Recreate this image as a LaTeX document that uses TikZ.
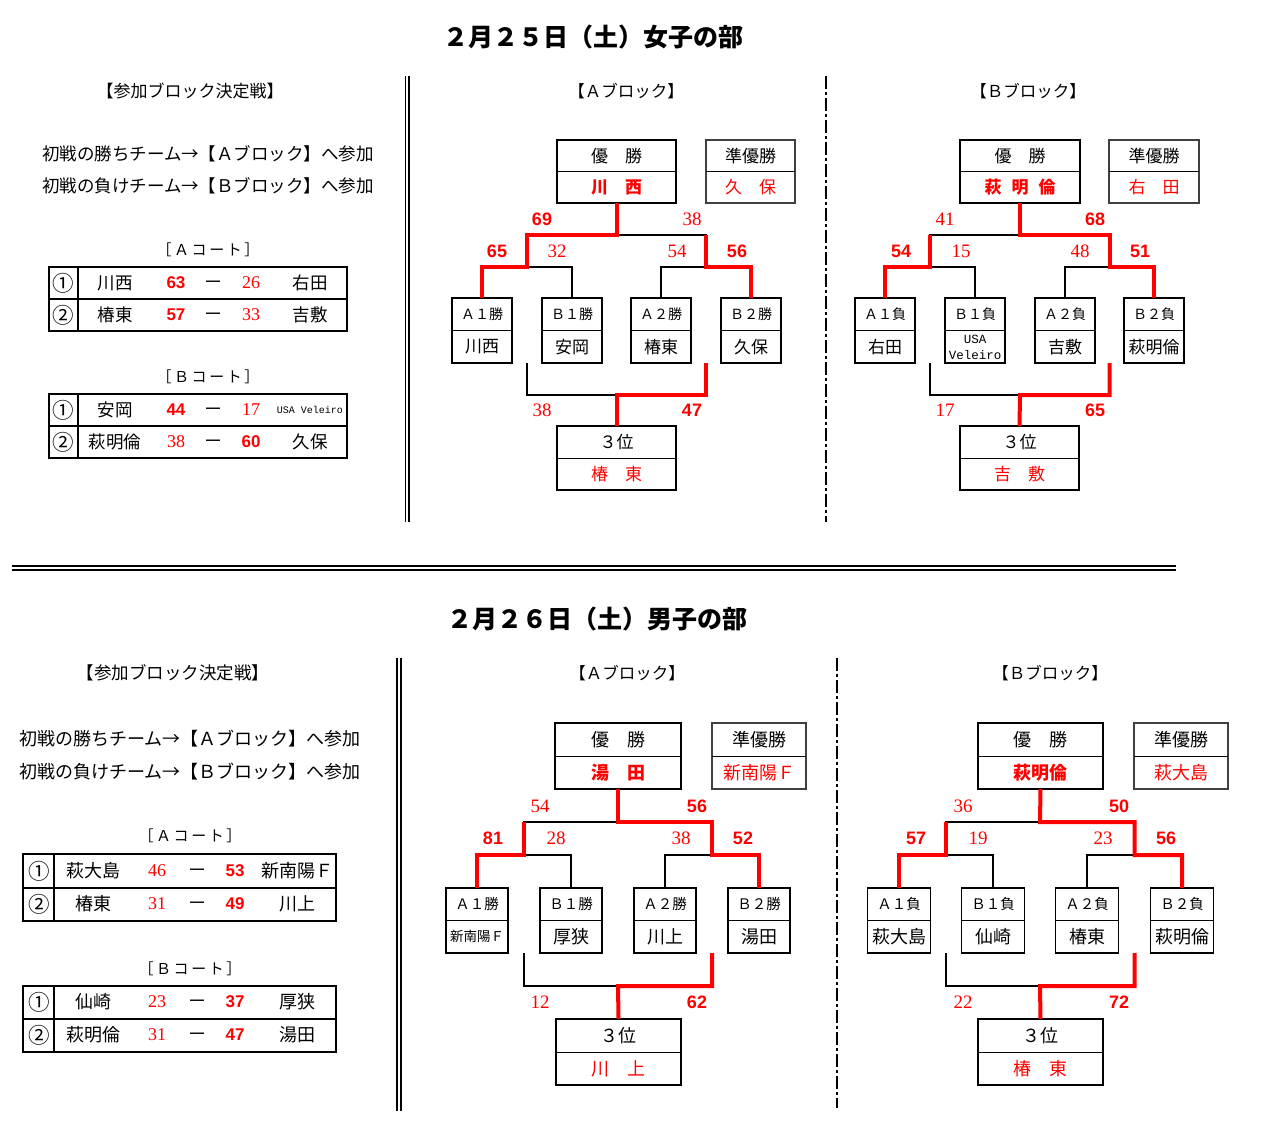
\documentclass[tikz,border=0pt]{standalone}
\usepackage{fontspec}
\setmainfont{Noto Sans CJK JP}
\newfontfamily\lsans{Liberation Sans}
\newfontfamily\lserif{Liberation Serif}
\newfontfamily\lmono{Liberation Mono}
\newcommand{\myfs}[1]{\fontsize{#1}{#1}\selectfont}
\newcommand{\gp}{\hspace{2.6pt}}
% two-row box: name, x, y, w, h, box style, top text, bottom style, bottom text
\newcommand{\tbox}[9]{%
  \node[#6, minimum width=#4pt, minimum height=#5pt] (#1) at (#2,#3) {};
  \draw[dv] (#1.west) -- (#1.east);
  \node[tp] (#1u) at (#2,#3-#5/4) {#7};
  \node[#8] (#1l) at (#2,#3+#5/4) {#9};
}
% table row: prefix, y, num, team1, style1, score1, style2, score2, team2
\newcommand{\trow}[9]{%
  \node[cn] (#1n) at (\xa,#2) {#3};
  \node[tt] (#1a) at (\xb,#2) {#4};
  \node[#5] (#1s) at (\xc,#2) {#6};
  \node[dsht] (#1d) at (\xd,#2) {—};
  \node[#7] (#1t) at (\xe,#2) {#8};
  \node[tt] (#1b) at (\xf,#2) {#9};
}
\begin{document}
\begin{tikzpicture}[x=1pt,y=-1pt,
  every node/.style={inner sep=0pt, outer sep=0pt},
  bk/.style={line width=1.6pt, black},
  rd/.style={line width=4pt, red},
  dv/.style={line width=0.9pt},
  bx/.style={draw, line width=1.8pt},
  wbx/.style={draw, line width=1.8pt},
  rbx/.style={draw=black!75, line width=1.3pt},
  tbx/.style={draw, line width=1.1pt},
  tp/.style={font=\myfs{17}},
  nm/.style={font=\myfs{17}},
  wn/.style={font=\bfseries\myfs{17}, text=red},
  rn/.style={font=\myfs{17}, text=red},
  win/.style={font=\lsans\bfseries\myfs{18}, text=red},
  lose/.style={font=\lserif\myfs{19}, text=red},
  tw/.style={font=\lsans\bfseries\myfs{17}, text=red},
  tl/.style={font=\lserif\myfs{18}, text=red},
  tt/.style={font=\myfs{17.5}},
  cn/.style={font=\myfs{21.5}},
  dsht/.style={font=\lsans\bfseries\myfs{14}},
  hd/.style={font=\myfs{17}},
  hd2/.style={font=\myfs{16.5}},
  ex/.style={font=\myfs{17.5}},
  ct/.style={font=\myfs{15}},
  tbl/.style={draw, line width=2pt},
  dsh/.style={line width=2pt, dash pattern=on 13pt off 3pt on 3pt off 3pt},
  dbl/.style={line width=1.6pt}
]
\fill[white] (0,0) rectangle (1274,1136);
\useasboundingbox (0,0) rectangle (1274,1136);

% ===================== TOP: women =====================
\node[font=\bfseries\myfs{25}] (t1) at (593,37) {２月２５日（土）女子の部};
\node[hd] (t1l) at (190,91) {【参加ブロック決定戦】};
\node[hd2] (t1a) at (626,91) {【Ａブロック】};
\node[hd2] (t1b) at (1028,91) {【Ｂブロック】};
\node[ex] (t1e1) at (208,154) {初戦の勝ちチーム→【Ａブロック】へ参加};
\node[ex] (t1e2) at (208,186) {初戦の負けチーム→【Ｂブロック】へ参加};

\draw[dbl] (405.5,76) -- (405.5,522);
\draw[dbl] (409,76) -- (409,522);
\draw[dsh] (826,76) -- (826,522);

% A court
\node[ct] (t1ca) at (208,250) {［\gp Ａ\gp コ\gp ー\gp ト\gp ］};
\node[tbl, minimum width=298pt, minimum height=64pt] (TCA) at (198,299) {};
\draw[line width=2pt] (TCA.west) -- (TCA.east);
\coordinate (TCAc) at (78,299);
\draw[line width=1.5pt] (TCAc |- TCA.north) -- (TCAc |- TCA.south);
\def\xa{63}\def\xb{115}\def\xc{176}\def\xd{213}\def\xe{251}\def\xf{310}
\trow{TCA1}{283}{①}{川西}{tw}{63}{tl}{26}{右田}
\trow{TCA2}{315}{②}{椿東}{tw}{57}{tl}{33}{吉敷}
% B court
\node[ct] (t1cb) at (208,377) {［\gp Ｂ\gp コ\gp ー\gp ト\gp ］};
\node[tbl, minimum width=298pt, minimum height=64pt] (TCB) at (198,426) {};
\draw[line width=2pt] (TCB.west) -- (TCB.east);
\coordinate (TCBc) at (78,426);
\draw[line width=1.5pt] (TCBc |- TCB.north) -- (TCBc |- TCB.south);
\trow{TCB1}{410}{①}{安岡}{tw}{44}{tl}{17}{\lmono\myfs{10}USA Veleiro}
\trow{TCB2}{442}{②}{萩明倫}{tl}{38}{tw}{60}{久保}

% ---- A block (top)
\tbox{TAW}{616.5}{171.5}{119}{63}{wbx}{優　勝}{wn}{川　西}
\tbox{TAR}{750.5}{171.5}{89}{63}{rbx}{準優勝}{rn}{久　保}
\tbox{TAb1}{482}{330.5}{60}{65}{bx}{\myfs{14}Ａ１勝}{nm}{川西}
\tbox{TAb2}{572}{330.5}{60}{65}{bx}{\myfs{14}Ｂ１勝}{nm}{安岡}
\tbox{TAb3}{661}{330.5}{60}{65}{bx}{\myfs{14}Ａ２勝}{nm}{椿東}
\tbox{TAb4}{751}{330.5}{60}{65}{bx}{\myfs{14}Ｂ２勝}{nm}{久保}
\tbox{TAT}{616.5}{458}{119}{64}{tbx}{３位}{rn}{椿　東}
\coordinate (TAs1) at (527,267);
\coordinate (TAs2) at (706,267);
\coordinate (TAf) at (616.5,235);
\coordinate (TAl1) at (527,363);
\coordinate (TAl2) at (706,363);
\coordinate (TAt) at (616.5,395);
\draw[bk] (TAb1.north) |- (TAs1) -| (TAb2.north);
\draw[bk] (TAb3.north) |- (TAs2) -| (TAb4.north);
\draw[bk] (TAs1) |- (TAf) -| (TAs2);
\draw[bk] (TAl1) |- (TAt) -| (TAl2);
\draw[rd] (TAb1.north) |- (TAs1) |- (TAf) -- (TAW.south);
\draw[rd] (TAb4.north) |- (TAs2) -- (TAs2 |- TAf);
\draw[rd] (TAl2) |- (TAt) -- (TAT.north);
\node[win] (TAk1) at (542,219) {69};
\node[lose] (TAk2) at (692,219) {38};
\node[win] (TAk3) at (497,251) {65};
\node[lose] (TAk4) at (557,251) {32};
\node[lose] (TAk5) at (677,251) {54};
\node[win] (TAk6) at (737,251) {56};
\node[lose] (TAk7) at (542,410) {38};
\node[win] (TAk8) at (692,410) {47};

% ---- B block (top)
\tbox{TBW}{1020}{171.5}{120}{63}{wbx}{優　勝}{wn}{萩\hspace{10pt}明\hspace{10pt}倫}
\tbox{TBR}{1154}{171.5}{90}{63}{rbx}{準優勝}{rn}{右　田}
\tbox{TBb1}{885}{330.5}{60}{65}{bx}{\myfs{14}Ａ１負}{nm}{右田}
\tbox{TBb2}{975}{330.5}{60}{65}{bx}{\myfs{14}Ｂ１負}{nm}{}
\tbox{TBb3}{1065}{330.5}{60}{65}{bx}{\myfs{14}Ａ２負}{nm}{吉敷}
\tbox{TBb4}{1154}{330.5}{60}{65}{bx}{\myfs{14}Ｂ２負}{nm}{萩明倫}
\node[font=\lmono\myfs{12.5}] (TBv1) at (975,339) {USA};
\node[font=\lmono\myfs{12.5}] (TBv2) at (975,355) {Veleiro};
\tbox{TBT}{1019.5}{458}{119}{64}{tbx}{３位}{rn}{吉　敷}
\coordinate (TBs1) at (930,267);
\coordinate (TBs2) at (1109.5,267);
\coordinate (TBf) at (1020,235);
\coordinate (TBl1) at (930,363);
\coordinate (TBl2) at (1109.5,363);
\coordinate (TBt) at (1020,395);
\draw[bk] (TBb1.north) |- (TBs1) -| (TBb2.north);
\draw[bk] (TBb3.north) |- (TBs2) -| (TBb4.north);
\draw[bk] (TBs1) |- (TBf) -| (TBs2);
\draw[bk] (TBl1) |- (TBt) -| (TBl2);
\draw[rd] (TBb4.north) |- (TBs2) |- (TBf) -- (TBW.south);
\draw[rd] (TBb1.north) |- (TBs1) -- (TBs1 |- TBf);
\draw[rd] (TBl2) |- (TBt) -- (TBT.north);
\node[lose] (TBk1) at (945,219) {41};
\node[win] (TBk2) at (1095,219) {68};
\node[win] (TBk3) at (901,251) {54};
\node[lose] (TBk4) at (961,251) {15};
\node[lose] (TBk5) at (1080,251) {48};
\node[win] (TBk6) at (1140,251) {51};
\node[lose] (TBk7) at (945,410) {17};
\node[win] (TBk8) at (1095,410) {65};

% ===================== separator =====================
\draw[line width=1.8pt] (12,566) -- (1176,566);
\draw[line width=1.8pt] (12,570) -- (1176,570);

% ===================== BOTTOM: men =====================
\begin{scope}[tp/.style={font=\myfs{18}}, nm/.style={font=\myfs{18}},
  wn/.style={font=\bfseries\myfs{18}, text=red}, rn/.style={font=\myfs{18}, text=red},
  tt/.style={font=\myfs{18}}]
\node[font=\bfseries\myfs{25}] (t2) at (597,619) {２月２６日（土）男子の部};
\node[font=\myfs{17.5}] (t2l) at (173,673) {【参加ブロック決定戦】};
\node[hd2] (t2a) at (627,673) {【Ａブロック】};
\node[hd2] (t2b) at (1050,673) {【Ｂブロック】};
\node[font=\myfs{18}] (t2e1) at (190,739) {初戦の勝ちチーム→【Ａブロック】へ参加};
\node[font=\myfs{18}] (t2e2) at (190,772) {初戦の負けチーム→【Ｂブロック】へ参加};

\draw[dbl] (397,658) -- (397,1111);
\draw[dbl] (401,658) -- (401,1111);
\draw[dsh] (837,658) -- (837,1108);

\node[ct] (t2ca) at (190,836) {［\gp Ａ\gp コ\gp ー\gp ト\gp ］};
\node[tbl, minimum width=313pt, minimum height=67pt] (BCA) at (179.5,887.5) {};
\draw[line width=2pt] (BCA.west) -- (BCA.east);
\coordinate (BCAc) at (54,887.5);
\draw[line width=1.5pt] (BCAc |- BCA.north) -- (BCAc |- BCA.south);
\def\xa{39}\def\xb{93}\def\xc{157}\def\xd{197}\def\xe{235}\def\xf{297}
\trow{BCA1}{871}{①}{萩大島}{tl}{46}{tw}{53}{新南陽Ｆ}
\trow{BCA2}{904}{②}{椿東}{tl}{31}{tw}{49}{川上}
\node[ct] (t2cb) at (190,969) {［\gp Ｂ\gp コ\gp ー\gp ト\gp ］};
\node[tbl, minimum width=313pt, minimum height=66pt] (BCB) at (179.5,1019) {};
\draw[line width=2pt] (BCB.west) -- (BCB.east);
\coordinate (BCBc) at (54,1019);
\draw[line width=1.5pt] (BCBc |- BCB.north) -- (BCBc |- BCB.south);
\trow{BCB1}{1002}{①}{仙崎}{tl}{23}{tw}{37}{厚狭}
\trow{BCB2}{1035}{②}{萩明倫}{tl}{31}{tw}{47}{湯田}

% ---- A block (bottom)
\tbox{BAW}{618}{756}{126}{66}{wbx}{優　勝}{wn}{湯　田}
\tbox{BAR}{759}{756}{94}{66}{rbx}{準優勝}{rn}{新南陽Ｆ}
\tbox{BAb1}{477}{920.5}{62}{65}{bx}{\myfs{14.5}Ａ１勝}{nm}{\myfs{13.5}新南陽Ｆ}
\tbox{BAb2}{571}{920.5}{62}{65}{bx}{\myfs{14.5}Ｂ１勝}{nm}{厚狭}
\tbox{BAb3}{665}{920.5}{62}{65}{bx}{\myfs{14.5}Ａ２勝}{nm}{川上}
\tbox{BAb4}{759}{920.5}{62}{65}{bx}{\myfs{14.5}Ｂ２勝}{nm}{湯田}
\tbox{BAT}{618.5}{1052}{125}{66}{tbx}{３位}{rn}{川　上}
\coordinate (BAs1) at (524,855);
\coordinate (BAs2) at (712,855);
\coordinate (BAf) at (618,822);
\coordinate (BAl1) at (524,953);
\coordinate (BAl2) at (712,953);
\coordinate (BAt) at (618,986);
\draw[bk] (BAb1.north) |- (BAs1) -| (BAb2.north);
\draw[bk] (BAb3.north) |- (BAs2) -| (BAb4.north);
\draw[bk] (BAs1) |- (BAf) -| (BAs2);
\draw[bk] (BAl1) |- (BAt) -| (BAl2);
\draw[rd] (BAb4.north) |- (BAs2) |- (BAf) -- (BAW.south);
\draw[rd] (BAb1.north) |- (BAs1) -- (BAs1 |- BAf);
\draw[rd] (BAl2) |- (BAt) -- (BAT.north);
\node[lose] (BAk1) at (540,806) {54};
\node[win] (BAk2) at (697,806) {56};
\node[win] (BAk3) at (493,838) {81};
\node[lose] (BAk4) at (556,838) {28};
\node[lose] (BAk5) at (681,838) {38};
\node[win] (BAk6) at (743,838) {52};
\node[lose] (BAk7) at (540,1002) {12};
\node[win] (BAk8) at (697,1002) {62};

% ---- B block (bottom)
\tbox{BBW}{1040.5}{756}{125}{66}{wbx}{優　勝}{wn}{萩明倫}
\tbox{BBR}{1181}{756}{94}{66}{rbx}{準優勝}{rn}{萩大島}
\tbox{BBb1}{899}{920.5}{63}{65}{bx}{\myfs{14.5}Ａ１負}{nm}{萩大島}
\tbox{BBb2}{993}{920.5}{63}{65}{bx}{\myfs{14.5}Ｂ１負}{nm}{仙崎}
\tbox{BBb3}{1087}{920.5}{63}{65}{bx}{\myfs{14.5}Ａ２負}{nm}{椿東}
\tbox{BBb4}{1182}{920.5}{63}{65}{bx}{\myfs{14.5}Ｂ２負}{nm}{萩明倫}
\tbox{BBT}{1040.5}{1052}{125}{66}{tbx}{３位}{rn}{椿　東}
\coordinate (BBs1) at (946,855);
\coordinate (BBs2) at (1134.5,855);
\coordinate (BBf) at (1040,822);
\coordinate (BBl1) at (946,953);
\coordinate (BBl2) at (1134.5,953);
\coordinate (BBt) at (1040,986);
\draw[bk] (BBb1.north) |- (BBs1) -| (BBb2.north);
\draw[bk] (BBb3.north) |- (BBs2) -| (BBb4.north);
\draw[bk] (BBs1) |- (BBf) -| (BBs2);
\draw[bk] (BBl1) |- (BBt) -| (BBl2);
\draw[rd] (BBb4.north) |- (BBs2) |- (BBf) -- (BBW.south);
\draw[rd] (BBb1.north) |- (BBs1) -- (BBs1 |- BBf);
\draw[rd] (BBl2) |- (BBt) -- (BBT.north);
\node[lose] (BBk1) at (963,806) {36};
\node[win] (BBk2) at (1119,806) {50};
\node[win] (BBk3) at (916,838) {57};
\node[lose] (BBk4) at (978,838) {19};
\node[lose] (BBk5) at (1103,838) {23};
\node[win] (BBk6) at (1166,838) {56};
\node[lose] (BBk7) at (963,1002) {22};
\node[win] (BBk8) at (1119,1002) {72};
\end{scope}
\end{tikzpicture}
\end{document}
